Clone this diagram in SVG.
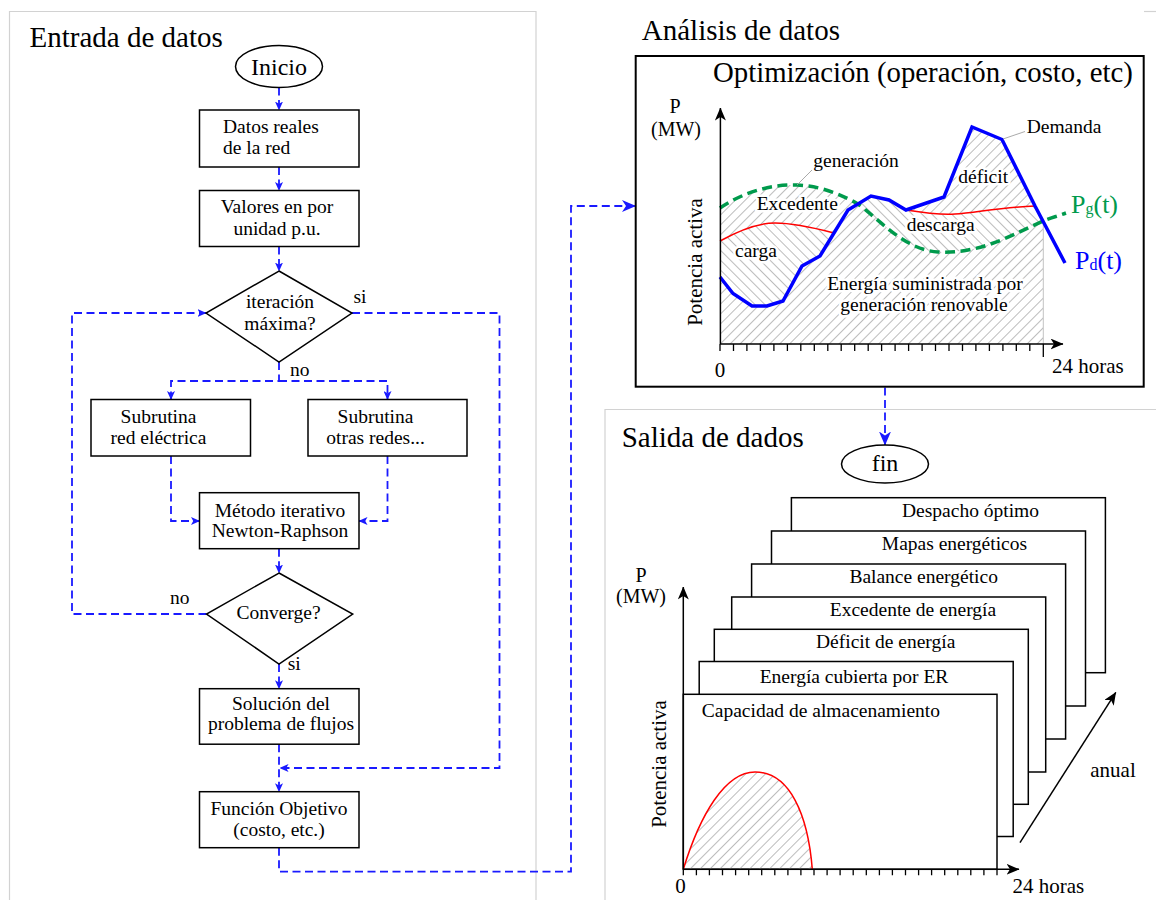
<svg xmlns="http://www.w3.org/2000/svg" width="1156" height="900" viewBox="0 0 1156 900">
  <defs>
    <style>
      text { font-family: "Liberation Serif", "Times New Roman", serif; fill: #000; }
      .t { font-size: 19.5px; }
      .title { font-size: 29px; }
      .mid { text-anchor: middle; }
      .box { fill: #fff; stroke: #000; stroke-width: 1.5; }
      .sheet { fill: #fff; stroke: #000; stroke-width: 1.5; }
      .flow { fill: none; stroke: #1a1aff; stroke-width: 1.8; stroke-dasharray: 8 4.5; }
      .panel { fill: none; stroke: #d2d2d2; stroke-width: 1.2; }
      .axis { fill: none; stroke: #000; stroke-width: 1.5; }
      .tick { fill: none; stroke: #000; stroke-width: 1.3; }
      .leader { fill: none; stroke: #a0a0a0; stroke-width: 0.9; }
      .halo { paint-order: stroke; stroke: #fff; stroke-width: 5px; stroke-linejoin: round; }
    </style>
    <marker id="ah" viewBox="0 0 9 8" refX="8.5" refY="4" markerWidth="9" markerHeight="8" markerUnits="userSpaceOnUse" orient="auto">
      <path d="M0,0 L9,4 L0,8 L2.2,4 Z" fill="#1a1aff"/>
    </marker>
    <marker id="ahBig" viewBox="0 0 14 12" refX="13.5" refY="6" markerWidth="14" markerHeight="12" markerUnits="userSpaceOnUse" orient="auto">
      <path d="M0,0 L14,6 L0,12 L4,6 Z" fill="#1a1aff"/>
    </marker>
    <marker id="ahK" viewBox="0 0 13 11" refX="12.5" refY="5.5" markerWidth="13" markerHeight="11" markerUnits="userSpaceOnUse" orient="auto">
      <path d="M0,0 L13,5.5 L0,11 L3.5,5.5 Z" fill="#000"/>
    </marker>
    <!-- diagonal hatching: "/" and "\" -->
    <pattern id="hatchF" patternUnits="userSpaceOnUse" width="7" height="7" patternTransform="rotate(45)">
      <line x1="3.5" y1="0" x2="3.5" y2="7" stroke="#b4b4b4" stroke-width="0.9"/>
    </pattern>
    <pattern id="hatchB" patternUnits="userSpaceOnUse" width="7" height="7" patternTransform="rotate(-45)">
      <line x1="3.5" y1="0" x2="3.5" y2="7" stroke="#b4b4b4" stroke-width="0.9"/>
    </pattern>
  </defs>

  <rect width="1156" height="900" fill="#fff"/>

  <!-- section frames -->
  <g id="frames">
    <path class="panel" d="M9.5,905 V11.5 H536 V905"/>
    <path class="panel" d="M1144,11.5 H1160"/>
    <path class="panel" d="M605,905 V409.5 H1160"/>
  </g>

  <!-- section titles -->
  <text class="title" x="29.5" y="46.7">Entrada de datos</text>
  <text class="title" x="641.8" y="40">Análisis de datos</text>
  <text class="title" x="621.7" y="446.7">Salida de dados</text>

  <!-- connectors -->
  <g id="connectors">
    <path class="flow" d="M279,87.5 V110" marker-end="url(#ah)"/>
    <path class="flow" d="M279,167 V190.5" marker-end="url(#ah)"/>
    <path class="flow" d="M279,246.5 V271" marker-end="url(#ah)"/>
    <path class="flow" d="M279,362 V381 H171 V399.5" marker-end="url(#ah)"/>
    <path class="flow" d="M279,381 H387.5 V399.5" marker-end="url(#ah)"/>
    <path class="flow" d="M171,456 V521 H199.5" marker-end="url(#ah)"/>
    <path class="flow" d="M387.5,456 V521 H359" marker-end="url(#ah)"/>
    <path class="flow" d="M279,548.7 V573" marker-end="url(#ah)"/>
    <path class="flow" d="M206.5,614 H72 V313 H206" marker-end="url(#ah)"/>
    <path class="flow" d="M352,313 H499.5 V768 H280" marker-end="url(#ah)"/>
    <path class="flow" d="M279,664 V688.7" marker-end="url(#ah)"/>
    <path class="flow" d="M279,744.2 V791.7" marker-end="url(#ah)"/>
    <path class="flow" d="M279,847.7 V871.7 H571 V206 H635.5" marker-end="url(#ahBig)"/>
    <path class="flow" d="M885,387.5 V445" marker-end="url(#ahBig)"/>
  </g>

  <!-- flowchart nodes -->
  <g id="inicio">
    <ellipse cx="279" cy="66.5" rx="43.5" ry="21" fill="#fff" stroke="#000" stroke-width="1.5"/>
    <text x="279" y="75" class="mid" font-size="24">Inicio</text>
  </g>
  <g id="datos-reales">
    <rect class="box" x="199.5" y="110" width="159.5" height="57"/>
    <text class="t" x="223" y="133.3">Datos reales</text>
    <text class="t" x="223" y="154">de la red</text>
  </g>
  <g id="valores-pu">
    <rect class="box" x="199.5" y="190.5" width="159.5" height="56"/>
    <text class="t mid" x="277" y="213.3">Valores en por</text>
    <text class="t mid" x="277" y="235">unidad p.u.</text>
  </g>
  <g id="iteracion-maxima">
    <polygon class="box" points="279,271 352,313 279,362 206,313"/>
    <text class="t mid" x="280" y="308">iteración</text>
    <text class="t mid" x="280" y="329.5">máxima?</text>
    <text class="t" x="353.5" y="303">si</text>
    <text class="t" x="290" y="376">no</text>
  </g>
  <g id="subrutina-red">
    <rect class="box" x="91" y="399.5" width="159.5" height="56.5"/>
    <text class="t mid" x="158.5" y="423.3">Subrutina</text>
    <text class="t mid" x="158.5" y="444">red eléctrica</text>
  </g>
  <g id="subrutina-otras">
    <rect class="box" x="308" y="399.5" width="159" height="56.5"/>
    <text class="t mid" x="375.5" y="423.3">Subrutina</text>
    <text class="t mid" x="375.5" y="444">otras redes...</text>
  </g>
  <g id="newton-raphson">
    <rect class="box" x="199.5" y="492.7" width="159.5" height="56"/>
    <text class="t mid" x="280" y="516.7">Método iterativo</text>
    <text class="t mid" x="280" y="537.3">Newton-Raphson</text>
  </g>
  <g id="converge">
    <polygon class="box" points="279,573 352.7,614 279,664 206.5,614"/>
    <text class="t mid" x="278.5" y="619.3">Converge?</text>
    <text class="t" x="170" y="604">no</text>
    <text class="t" x="287.7" y="670">si</text>
  </g>
  <g id="solucion">
    <rect class="box" x="199.5" y="688.7" width="159.5" height="55.5"/>
    <text class="t mid" x="281" y="710">Solución del</text>
    <text class="t mid" x="281" y="729.5">problema de flujos</text>
  </g>
  <g id="funcion-objetivo">
    <rect class="box" x="199.5" y="791.7" width="159.5" height="56"/>
    <text class="t mid" x="279" y="815.3">Función Objetivo</text>
    <text class="t mid" x="279" y="836">(costo, etc.)</text>
  </g>

  <!-- optimisation panel with daily power chart -->
  <g id="optimizacion">
    <rect x="635.7" y="56" width="508" height="330.7" fill="#fff" stroke="#000" stroke-width="2"/>
    <text x="713" y="81.7" font-size="28.8">Optimización (operación, costo, etc)</text>

    <!-- hatched areas -->
    <path d="M720,344 V208 C742,193 770,184 797,185 C822,186 842,195 858,204 L871,196 L889,200 L906,210 L944,197 L972,127 L1002,139.5 L1035,206 L1043,221 V344 Z" fill="url(#hatchF)"/>
    <path d="M720,241 C740,230 760,223 775,223 C795,223 815,228 834,233 L820,256 L802,266 L783,301 L767,306 L752,306 L733,293.5 L720,277 Z" fill="#fff"/>
    <path d="M720,241 C740,230 760,223 775,223 C795,223 815,228 834,233 L820,256 L802,266 L783,301 L767,306 L752,306 L733,293.5 L720,277 Z" fill="url(#hatchB)"/>
    <path d="M858,204 L871,196 L889,200 L906,210 C925,213 940,215 955,214 C975,213 1000,207 1035,206 L1043,221 C1010,236 980,254 938,252 C905,250 880,220 858,204 Z" fill="#fff"/>
    <path d="M858,204 L871,196 L889,200 L906,210 C925,213 940,215 955,214 C975,213 1000,207 1035,206 L1043,221 C1010,236 980,254 938,252 C905,250 880,220 858,204 Z" fill="url(#hatchB)"/>
    <line x1="1043.3" y1="221" x2="1043.3" y2="344" stroke="#c4c4c4" stroke-width="1"/>

    <!-- storage level -->
    <path d="M720,241 C740,230 760,223 775,223 C795,223 815,228 834,233" fill="none" stroke="#ff0000" stroke-width="1.5"/>
    <path d="M906,210 C925,213 940,215 955,214 C975,213 1000,207 1035,206" fill="none" stroke="#ff0000" stroke-width="1.5"/>

    <!-- generation Pg(t) -->
    <path d="M720,208 C742,193 770,184 797,185 C822,186 842,195 858,204 C880,220 905,250 938,252 C980,254 1010,236 1043,221 C1050,218 1058,216 1066,213" fill="none" stroke="#009a4c" stroke-width="3.5" stroke-dasharray="10 5.5"/>
    <!-- demand Pd(t) -->
    <polyline points="720,277 733,293.5 752,306 767,306 783,301 802,266 820,256 848,210 871,196 889,200 906,210 944,197 972,127 1002,139.5 1035,206 1065,263" fill="none" stroke="#0000ff" stroke-width="3.5" stroke-linejoin="miter"/>

    <!-- axes -->
    <path class="axis" d="M720.4,344 V108" marker-end="url(#ahK)"/>
    <path class="axis" d="M720,344 H1063" marker-end="url(#ahK)"/>
    <path class="tick" d="M720,344V351 M733.5,344V351 M746.9,344V351 M760.4,344V351 M773.9,344V351 M787.4,344V351 M800.8,344V351 M814.3,344V351 M827.8,344V351 M841.2,344V351 M854.7,344V351 M868.2,344V351 M881.6,344V351 M895.1,344V351 M908.6,344V351 M922.1,344V351 M935.5,344V351 M949,344V351 M962.5,344V351 M975.9,344V351 M989.4,344V351 M1002.9,344V351 M1016.3,344V351 M1029.8,344V351 M1043.3,344V357"/>

    <!-- leaders -->
    <path class="leader" d="M797,185 L812,170"/>
    <path class="leader" d="M1003,139 L1025,131.5"/>

    <!-- labels -->
    <text class="mid" x="675" y="113" font-size="20">P</text>
    <text class="mid" x="676" y="136" font-size="20">(MW)</text>
    <text class="mid" font-size="21" transform="translate(701.5,262) rotate(-90)">Potencia activa</text>
    <text class="t" x="813.3" y="166.7">generación</text>
    <text class="t" x="1026.7" y="133.3">Demanda</text>
    <text class="t halo" x="958.3" y="182.7">déficit</text>
    <text class="t halo" x="756.7" y="210">Excedente</text>
    <text class="t halo" x="735" y="256.7">carga</text>
    <text class="t halo" x="906.7" y="230.7">descarga</text>
    <text class="t mid halo" x="925" y="290">Energía suministrada por</text>
    <text class="t mid halo" x="924" y="310.5">generación renovable</text>
    <text class="mid" x="720" y="376.5" font-size="21">0</text>
    <text x="1052" y="372.7" font-size="21">24 horas</text>
    <text x="1071" y="213" font-size="26" style="fill:#009a4c">P<tspan font-size="16" dy="1">g</tspan><tspan dy="-1">(t)</tspan></text>
    <text x="1075" y="269" font-size="26" style="fill:#0000ff">P<tspan font-size="16" dy="1">d</tspan><tspan dy="-1">(t)</tspan></text>
  </g>

  <g id="fin">
    <ellipse cx="885" cy="464" rx="43.5" ry="19" fill="#fff" stroke="#000" stroke-width="1.5"/>
    <text class="mid" x="885" y="471" font-size="24">fin</text>
  </g>

  <!-- stack of output sheets -->
  <g id="salida-hojas">
    <g id="hoja-despacho">
      <rect class="sheet" x="791.4" y="497.7" width="314" height="175"/>
      <text class="t" x="902" y="516.7">Despacho óptimo</text>
    </g>
    <g id="hoja-mapas">
      <rect class="sheet" x="771.5" y="531" width="314" height="175"/>
      <text class="t" x="881.8" y="550">Mapas energéticos</text>
    </g>
    <g id="hoja-balance">
      <rect class="sheet" x="751.6" y="564" width="314" height="175"/>
      <text class="t" x="849.4" y="583.3">Balance energético</text>
    </g>
    <g id="hoja-excedente">
      <rect class="sheet" x="731.7" y="597" width="314" height="175"/>
      <text class="t" x="829.8" y="616">Excedente de energía</text>
    </g>
    <g id="hoja-deficit">
      <rect class="sheet" x="714.3" y="629.3" width="314" height="175"/>
      <text class="t" x="816" y="648.3">Déficit de energía</text>
    </g>
    <g id="hoja-energia-er">
      <rect class="sheet" x="699.2" y="661.5" width="314" height="175"/>
      <text class="t" x="759.7" y="682.7">Energía cubierta por ER</text>
    </g>
    <g id="hoja-capacidad">
      <rect class="sheet" x="683.3" y="694.3" width="313.7" height="175"/>
      <text class="t" x="701.8" y="717.3">Capacidad de almacenamiento</text>
      <path d="M683.3,869.3 C700,815 725,772 755,772 C790,772 808,815 812.3,869.3 Z" fill="url(#hatchF)"/>
      <path d="M683.3,869.3 C700,815 725,772 755,772 C790,772 808,815 812.3,869.3" fill="none" stroke="#ff0000" stroke-width="1.5"/>
    </g>
    <!-- axes of the front sheet -->
    <path class="axis" d="M683.3,869.3 V587" marker-end="url(#ahK)"/>
    <path class="axis" d="M683.3,869.3 H1019" marker-end="url(#ahK)"/>
    <path class="tick" d="M683.3,869.3v6 M696.4,869.3v6 M709.4,869.3v6 M722.5,869.3v6 M735.6,869.3v6 M748.7,869.3v6 M761.7,869.3v6 M774.8,869.3v6 M787.9,869.3v6 M800.9,869.3v6 M814,869.3v6 M827.1,869.3v6 M840.1,869.3v6 M853.2,869.3v6 M866.3,869.3v6 M879.4,869.3v6 M892.4,869.3v6 M905.5,869.3v6 M918.6,869.3v6 M931.6,869.3v6 M944.7,869.3v6 M957.8,869.3v6 M970.8,869.3v6 M983.9,869.3v6 M997,869.3v6"/>
    <text class="mid" x="641" y="581.7" font-size="20">P</text>
    <text class="mid" x="641" y="603.3" font-size="20">(MW)</text>
    <text class="mid" font-size="21" transform="translate(665.5,764) rotate(-90)">Potencia activa</text>
    <text class="mid" x="680.4" y="893.3" font-size="21">0</text>
    <text x="1012.5" y="893.3" font-size="21">24 horas</text>
    <path class="axis" d="M1020,842.7 L1115.8,692.3" marker-end="url(#ahK)"/>
    <text x="1090.3" y="776.7" font-size="21">anual</text>
  </g>
</svg>
